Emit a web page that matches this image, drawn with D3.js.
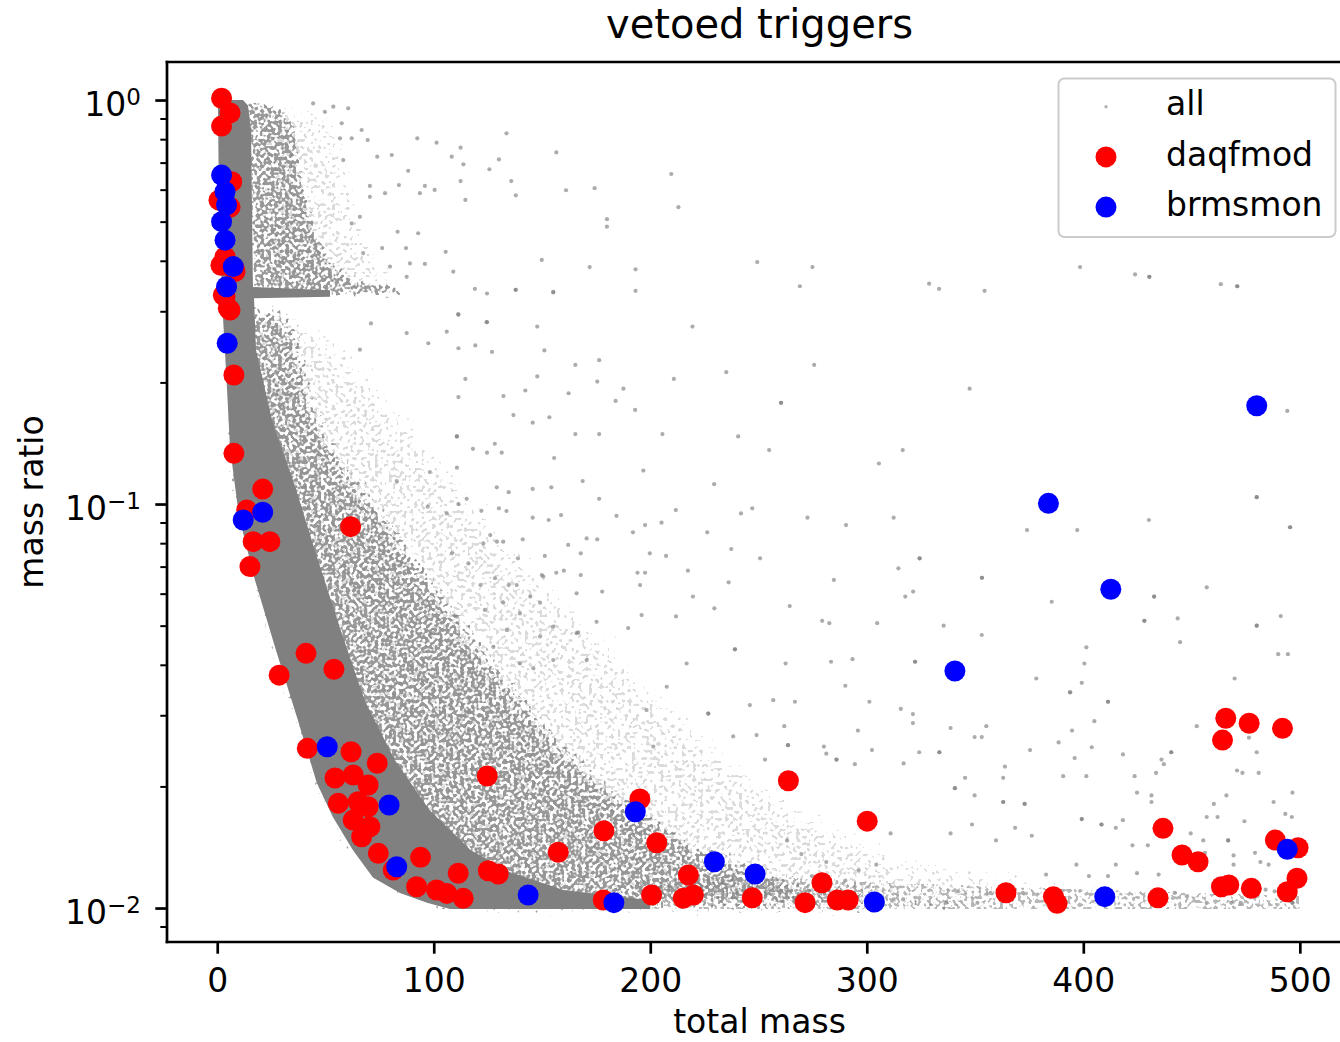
<!DOCTYPE html>
<html>
<head>
<meta charset="utf-8">
<script src="https://cdn.jsdelivr.net/npm/d3@7"></script>
<style>
  body { margin: 0; background: #fff; }
  svg { display: block; font-family: "DejaVu Sans", sans-serif; }
</style>
</head>
<body>
<div id="chart"></div>
<script>
// ---- data ----
var xTicks = [0, 100, 200, 300, 400, 500];
var yMajor = [0.01, 0.1, 1];
var yMajorExp = ["\u22122", "\u22121", "0"];
var yMinor = [0.009, 0.02, 0.03, 0.04, 0.05, 0.06, 0.07, 0.08, 0.09,
  0.2, 0.3, 0.4, 0.5, 0.6, 0.7, 0.8, 0.9];
var legendLabels = ["all", "daqfmod", "brmsmon"];

// "all": solid core of the point cloud, outline as [total mass, mass ratio]
var coreOutline = [
  [0.3, 1.0], [0.8, 0.566], [2.2, 0.320], [4.3, 0.203], [5.9, 0.138], [10.1, 0.0929],
  [17.4, 0.0649], [27.1, 0.0435], [36.8, 0.0297], [46.0, 0.0204], [53.4, 0.0168],
  [62.7, 0.0139], [71.9, 0.0119], [84.4, 0.0109], [96.9, 0.0103], [107.5, 0.00995],
  [200.0, 0.00995], [200.0, 0.01046], [160.0, 0.01108], [135.0, 0.01228], [117.0, 0.01392],
  [98.0, 0.01749], [82.0, 0.02325], [68.0, 0.03273], [57.0, 0.04878], [46.5, 0.07268],
  [36.5, 0.1083], [25.3, 0.1615], [17.9, 0.2406], [17.0, 0.323], [52.1, 0.326],
  [52.1, 0.338], [16.5, 0.3445], [16.0, 0.5656], [15.6, 0.8428], [14.2, 0.9695], [11.9, 1.0]
];
// dense speckle around the core
var halo1Upper = [
  [12.8, 1.0], [22.0, 0.99], [30.0, 0.95], [36.0, 0.85], [39.0, 0.671], [44.0, 0.5047],
  [52.0, 0.4018], [64.0, 0.3585], [86.0, 0.3445], [86.0, 0.3273], [16.5, 0.3254]
];
var halo1Lower = [
  [16.5, 0.3056], [28.0, 0.3092], [36.5, 0.2854], [40.5, 0.2272], [47.5, 0.1615], [61.5, 0.1214],
  [80.5, 0.0913], [97.0, 0.0687], [113.5, 0.0516], [135.0, 0.0367], [158.0, 0.0261],
  [190.0, 0.0185], [226.0, 0.0139], [272.0, 0.0117], [318.0, 0.01076], [361.5, 0.01034],
  [361.5, 0.00995], [102.8, 0.00995], [84.4, 0.0109], [62.7, 0.0139], [46.0, 0.0204],
  [27.1, 0.0435], [10.1, 0.0929], [5.9, 0.138], [4.3, 0.203], [2.5, 0.305]
];
// lighter speckle further out
var halo2Upper = [
  [15.1, 1.0], [36.0, 1.0], [50.0, 0.977], [59.5, 0.8428], [64.0, 0.634], [69.0, 0.4768],
  [83.0, 0.3796], [102.0, 0.3485], [120.0, 0.3387], [120.0, 0.3292], [84.4, 0.3236], [16.5, 0.3236]
];
var halo2Lower = [
  [16.5, 0.3022], [40.0, 0.2988], [59.5, 0.2547], [79.0, 0.1916], [98.0, 0.1441], [121.0, 0.1023],
  [145.0, 0.0727], [173.0, 0.0516], [201.0, 0.0367], [229.0, 0.0261], [266.0, 0.0185],
  [312.0, 0.0139], [366.0, 0.01228], [430.8, 0.01108], [500.1, 0.01076], [500.1, 0.00995],
  [102.8, 0.00995], [84.4, 0.0109], [62.7, 0.0139], [46.0, 0.0204], [27.1, 0.0435],
  [10.1, 0.0929], [5.9, 0.138], [4.3, 0.203], [2.5, 0.305]
];
// thin band of points lying on the 0.01 floor
var floorBand = [
  [195.0, 0.00995], [500.1, 0.00995], [500.1, 0.0107], [430.0, 0.0110], [361.5, 0.0113],
  [300.0, 0.0116], [250.0, 0.0120], [195.0, 0.0118]
];
// single "all" points away from the cloud
var allSparse = [
  [69.5, 0.796], [58.2, 0.710], [87.2, 0.430], [76.2, 0.430], [95.9, 0.393], [65.9, 0.514], [105.5, 0.421],
  [92.4, 0.804], [101.3, 0.784], [108.3, 0.724], [80.6, 0.731], [88.2, 0.668], [73.9, 0.724], [83.9, 0.616],
  [70.5, 0.613], [95.9, 0.613], [100.4, 0.599], [93.6, 0.588], [77.5, 0.588], [62.1, 0.495], [70.5, 0.576],
  [83.3, 0.472], [92.8, 0.468], [67.4, 0.418], [89.0, 0.394], [79.8, 0.387], [87.5, 0.365], [109.0, 0.376],
  [60.5, 0.954], [53.6, 0.963], [44.3, 0.981], [49.7, 0.935], [57.5, 0.876], [66.7, 0.843], [62.1, 0.804],
  [56.7, 0.804],
  [133.6, 0.827], [112.4, 0.762], [130.1, 0.713], [113.7, 0.693], [125.7, 0.674], [156.6, 0.742],
  [112.4, 0.630], [135.8, 0.630], [137.9, 0.581], [114.6, 0.566], [161.1, 0.598], [174.3, 0.605],
  [209.7, 0.656], [213.0, 0.543], [180.0, 0.507], [180.0, 0.486], [149.9, 0.402], [172.0, 0.386],
  [193.2, 0.381], [249.4, 0.397], [274.9, 0.386], [269.1, 0.346], [328.8, 0.351], [333.4, 0.341],
  [354.4, 0.337], [119.0, 0.341], [124.6, 0.332], [137.9, 0.339], [155.2, 0.335], [193.2, 0.337],
  [111.4, 0.294], [124.6, 0.282], [147.8, 0.275], [219.5, 0.275], [111.4, 0.243], [119.2, 0.247],
  [126.9, 0.238], [151.1, 0.240], [165.4, 0.221], [176.4, 0.227], [235.1, 0.212], [275.7, 0.221],
  [114.6, 0.204], [147.8, 0.207], [175.5, 0.201], [210.9, 0.204], [187.6, 0.193], [111.4, 0.184],
  [132.2, 0.185], [142.3, 0.191], [162.3, 0.188], [184.0, 0.180], [193.0, 0.171], [260.4, 0.178],
  [260.4, 0.178], [347.5, 0.193], [136.8, 0.166], [145.7, 0.159], [153.4, 0.164], [110.7, 0.147],
  [110.7, 0.147], [165.4, 0.149], [176.4, 0.149], [205.6, 0.149], [240.6, 0.147], [118.1, 0.137],
  [128.2, 0.141], [124.6, 0.134], [131.4, 0.134], [155.6, 0.130], [254.9, 0.136], [316.6, 0.136],
  [305.6, 0.126], [110.7, 0.123], [196.8, 0.121], [168.8, 0.114], [229.5, 0.112], [129.1, 0.110],
  [134.6, 0.107], [145.7, 0.109], [154.3, 0.110], [111.4, 0.100], [122.0, 0.0962], [130.1, 0.0976],
  [133.6, 0.0961], [145.7, 0.0925], [153.1, 0.0913], [158.8, 0.0939], [176.4, 0.103], [184.4, 0.0935],
  [211.8, 0.0966], [241.9, 0.0948], [247.1, 0.0976], [272.6, 0.0925], [290.4, 0.0887], [312.4, 0.0925],
  [374.0, 0.0862], [108.4, 0.0755], [116.0, 0.0713], [126.1, 0.0838], [129.2, 0.0807], [141.1, 0.0818],
  [138.9, 0.0734], [151.3, 0.0744], [167.9, 0.0755], [175.5, 0.0818], [192.0, 0.0851], [197.6, 0.0887],
  [205.2, 0.0899], [199.8, 0.0755], [207.3, 0.0744], [226.3, 0.0851], [237.4, 0.0774], [250.7, 0.0734],
  [324.4, 0.0734], [324.4, 0.0734], [314.6, 0.0693], [353.2, 0.0657], [353.2, 0.0657], [284.8, 0.0649],
  [121.6, 0.0630], [134.6, 0.0630], [149.9, 0.0667], [156.6, 0.0676], [160.1, 0.0684], [167.9, 0.0667],
  [194.1, 0.0676], [197.6, 0.0676], [195.3, 0.0630], [217.4, 0.0684], [236.2, 0.0640], [177.8, 0.0607],
  [219.7, 0.0590], [144.6, 0.0590], [321.4, 0.0607], [317.8, 0.0590],
  [398.5, 0.386], [423.9, 0.370], [430.5, 0.365], [430.5, 0.365], [463.5, 0.350], [471.1, 0.346],
  [471.1, 0.346], [494.2, 0.170], [480.1, 0.104], [480.1, 0.104], [495.5, 0.0876], [495.5, 0.0876],
  [430.3, 0.0913], [397.2, 0.0862], [385.4, 0.0573], [432.7, 0.0590], [432.7, 0.0590], [428.2, 0.0514],
  [428.2, 0.0514], [443.6, 0.0521], [457.0, 0.0622], [480.1, 0.0500], [480.1, 0.0500], [491.2, 0.0528],
  [264.4, 0.0559], [279.4, 0.0514], [282.7, 0.0507], [304.8, 0.0507], [335.5, 0.0500], [353.1, 0.0474],
  [444.7, 0.0455], [490.0, 0.0425], [494.5, 0.0425], [262.5, 0.0403], [283.5, 0.0407], [293.4, 0.0413],
  [322.3, 0.0407], [322.3, 0.0407], [290.1, 0.0355], [401.4, 0.0442], [400.5, 0.0403], [378.3, 0.0370],
  [469.9, 0.0370], [399.3, 0.0361], [393.9, 0.0342], [393.9, 0.0342], [411.4, 0.0324], [411.4, 0.0324],
  [301.2, 0.0324], [266.8, 0.0324], [315.7, 0.0311], [321.3, 0.0302], [321.3, 0.0287], [405.1, 0.0290],
  [355.2, 0.0282], [338.7, 0.0279], [295.9, 0.0275], [452.4, 0.0282], [476.5, 0.0264], [480.1, 0.0243],
  [394.8, 0.0275], [349.8, 0.0265], [353.1, 0.0265], [261.9, 0.0282], [263.6, 0.0253], [263.6, 0.0253],
  [280.2, 0.0251], [286.0, 0.0233], [286.0, 0.0233], [281.3, 0.0241], [294.5, 0.0227], [302.4, 0.0246],
  [324.2, 0.0243], [333.5, 0.0243], [333.5, 0.0243], [317.0, 0.0228], [375.4, 0.0246], [388.6, 0.0257],
  [403.9, 0.0250], [418.3, 0.0240], [440.6, 0.0243], [440.6, 0.0243], [436.1, 0.0233], [437.2, 0.0227],
  [396.0, 0.0235], [363.8, 0.0224], [473.5, 0.0216], [481.0, 0.0216], [471.0, 0.0219], [345.4, 0.0210],
  [340.7, 0.0198], [340.7, 0.0198], [363.0, 0.0210], [390.7, 0.0212], [401.4, 0.0212], [423.7, 0.0212],
  [433.6, 0.0216], [424.8, 0.0193], [431.5, 0.0190], [431.5, 0.0183], [466.1, 0.0190], [496.6, 0.0193],
  [487.9, 0.0183], [349.8, 0.0190], [363.0, 0.0183], [363.0, 0.0183], [372.9, 0.0181], [372.9, 0.0181],
  [460.3, 0.0181], [493.3, 0.0171], [462.0, 0.0168], [457.0, 0.0168], [399.3, 0.0166], [399.3, 0.0166],
  [408.4, 0.0161], [408.4, 0.0161], [418.3, 0.0165], [415.0, 0.0158], [474.4, 0.0164], [496.3, 0.0168],
  [466.9, 0.0147], [466.9, 0.0147], [449.6, 0.0153], [455.4, 0.0147], [456.2, 0.0137], [469.4, 0.0135],
  [479.3, 0.0137], [481.8, 0.0130], [485.6, 0.0128], [469.4, 0.0128], [422.7, 0.0143], [429.8, 0.0143],
  [434.8, 0.0121], [396.8, 0.0128], [402.6, 0.0120], [415.0, 0.0128], [411.4, 0.0120], [424.8, 0.0122],
  [376.2, 0.0151], [368.5, 0.0158], [348.6, 0.0161], [338.7, 0.0153], [359.7, 0.0147], [382.8, 0.0121],
  [372.1, 0.0109], [357.2, 0.0109], [336.6, 0.0103], [342.1, 0.0110], [312.4, 0.0105], [316.8, 0.0105],
  [351.1, 0.0103], [442.2, 0.0109], [447.9, 0.0107], [457.0, 0.0103], [468.3, 0.0103], [472.7, 0.0103],
  [484.2, 0.0111], [496.6, 0.0103], [496.6, 0.0103], [488.4, 0.0110], [311.0, 0.0153], [304.4, 0.0128],
  [290.1, 0.0117], [296.2, 0.0124], [281.3, 0.0130], [274.7, 0.0120], [269.8, 0.0136], [263.2, 0.0147],
  [259.9, 0.0109],
  [111.3, 0.295], [124.4, 0.282], [137.8, 0.339], [155.2, 0.334], [106.0, 0.267], [87.5, 0.265],
  [71.0, 0.280], [65.9, 0.241], [97.5, 0.250], [98.2, 0.120], [82.9, 0.114], [115.2, 0.103],
  [106.0, 0.0948], [97.2, 0.0985], [170.6, 0.0822], [162.1, 0.0792], [132.1, 0.0807], [122.9, 0.0799],
  [128.3, 0.0655], [138.3, 0.0630], [150.6, 0.0661], [166.0, 0.0601], [149.1, 0.0570], [132.1, 0.0570],
  [123.6, 0.0547], [139.8, 0.0536], [155.2, 0.0497], [166.0, 0.0479], [149.1, 0.0470], [133.7, 0.0488],
  [110.6, 0.0526], [99.8, 0.0479], [155.2, 0.0411], [170.6, 0.0411], [139.8, 0.0403], [127.5, 0.0443],
  [146.0, 0.0392], [229.6, 0.0552], [239.1, 0.0437], [239.1, 0.0437], [226.8, 0.0303], [226.8, 0.0303],
  [166.7, 0.0481], [189.8, 0.0493], [196.0, 0.0531], [211.9, 0.0527], [175.2, 0.0511], [246.0, 0.0318],
  [256.8, 0.0327], [216.8, 0.0403], [207.6, 0.0353], [198.3, 0.0309], [201.4, 0.0251], [238.3, 0.0266],
  [249.1, 0.0268], [253.0, 0.0233]
];

var daqfmod = [
  [2.0, 1.01], [5.9, 0.929], [2.0, 0.862], [0.8, 0.565], [5.9, 0.543], [6.7, 0.628],
  [3.6, 0.409], [8.2, 0.376], [1.7, 0.39], [7.7, 0.384], [2.8, 0.329], [5.1, 0.305],
  [3.6, 0.326], [5.9, 0.302], [7.7, 0.2086], [7.7, 0.1335], [21.0, 0.1089], [13.6, 0.0966],
  [16.6, 0.0807], [24.3, 0.0807], [15.1, 0.0700], [61.6, 0.0879], [41.0, 0.0427], [53.9, 0.0390],
  [28.6, 0.0377], [41.6, 0.02485], [61.8, 0.02437], [73.9, 0.02282], [54.4, 0.02098], [62.8, 0.02135],
  [69.7, 0.02016], [55.9, 0.01816], [65.1, 0.01833], [69.7, 0.01781], [62.8, 0.01651], [70.5, 0.01589],
  [66.7, 0.01501], [74.4, 0.01366], [81.3, 0.01242], [93.9, 0.01335], [92.1, 0.01129], [101.3, 0.01108],
  [106.0, 0.01087], [111.3, 0.01219], [113.6, 0.01057], [124.7, 0.02122], [125.2, 0.01237],
  [129.8, 0.01214], [157.5, 0.01374], [178.6, 0.01553], [195.2, 0.01862], [203.0, 0.01451],
  [178.3, 0.01047], [200.6, 0.01077], [217.6, 0.01207], [215.2, 0.01057], [219.9, 0.01077],
  [247.1, 0.01060], [263.8, 0.02066], [271.5, 0.01031], [279.3, 0.01155], [286.4, 0.01047],
  [291.4, 0.01047], [300.2, 0.01641], [364.3, 0.01091], [386.2, 0.01067], [387.9, 0.01027],
  [434.5, 0.01060], [436.8, 0.01575], [445.6, 0.01353], [453.0, 0.01302], [465.8, 0.02949],
  [464.3, 0.02604], [476.6, 0.02866], [492.0, 0.02785], [463.8, 0.01129], [467.2, 0.0114],
  [477.6, 0.01119], [488.7, 0.01473], [499.2, 0.0141], [498.7, 0.01185], [494.2, 0.01097]
];

var brmsmon = [
  [2.0, 0.652], [3.6, 0.593], [4.3, 0.550], [2.0, 0.500], [3.6, 0.450], [7.4, 0.387],
  [4.3, 0.345], [4.6, 0.250], [12.0, 0.0913], [21.0, 0.0954], [50.8, 0.02507], [79.4, 0.01799],
  [82.9, 0.01265], [143.6, 0.01077], [193.1, 0.01731], [183.2, 0.01031], [229.6, 0.01302],
  [248.4, 0.01214], [303.5, 0.01035], [340.7, 0.03861], [383.9, 0.1004], [412.7, 0.06151],
  [480.1, 0.1751], [409.9, 0.01067], [494.2, 0.01397]
];

// ---- layout ----
var W = 1340, H = 1042;
var plotL = 167, plotT = 62, plotR = 1352, plotB = 942;

var x = d3.scaleLinear().domain([-23.2, 524.1]).range([plotL, plotR]);
var y = d3.scaleLog().domain([0.00824, 1.242]).range([plotB, plotT]);

var svg = d3.select("#chart").append("svg")
  .attr("width", W)
  .attr("height", H);

var defs = svg.append("defs");
defs.append("clipPath").attr("id", "clip")
  .append("rect")
  .attr("x", plotL).attr("y", plotT)
  .attr("width", plotR - plotL).attr("height", plotB - plotT);

// speckle texture whose density fades out towards the edge of the shape
function speckle(id, blur, lift, cut, seed) {
  var f = defs.append("filter").attr("id", id)
    .attr("filterUnits", "userSpaceOnUse")
    .attr("x", 0).attr("y", 0).attr("width", W).attr("height", H)
    .attr("color-interpolation-filters", "sRGB");
  f.append("feTurbulence").attr("type", "fractalNoise")
    .attr("baseFrequency", 0.28).attr("numOctaves", 1).attr("seed", seed)
    .attr("result", "n");
  f.append("feColorMatrix").attr("in", "n").attr("type", "matrix")
    .attr("values", "0 0 0 0 0  0 0 0 0 0  0 0 0 0 0  1 0 0 0 0")
    .attr("result", "na");
  if (blur > 0) {
    f.append("feGaussianBlur").attr("in", "SourceAlpha").attr("stdDeviation", blur).attr("result", "m");
  } else {
    f.append("feOffset").attr("in", "SourceAlpha").attr("dx", 0).attr("dy", 0).attr("result", "m");
  }
  f.append("feComposite").attr("in", "na").attr("in2", "m").attr("operator", "arithmetic")
    .attr("k1", 0).attr("k2", 1).attr("k3", lift).attr("k4", 0).attr("result", "sum");
  f.append("feColorMatrix").attr("in", "sum").attr("type", "matrix")
    .attr("values", "0 0 0 0 0.5  0 0 0 0 0.5  0 0 0 0 0.5  0 0 0 10 " + (-10 * cut));
}
speckle("spk1", 9, 0.4, 0.84, 4);
speckle("spk1u", 3, 0.4, 0.84, 4);
speckle("spk2", 16, 0.4, 0.96, 11);
speckle("spkFloor", 0, 0.4, 0.92, 23);

var plot = svg.append("g").attr("clip-path", "url(#clip)");

var outline = d3.line()
  .x(function (d) { return x(d[0]); })
  .y(function (d) { return y(d[1]); });

// light halo, dense halo, floor band, solid core
[halo2Upper, halo2Lower].forEach(function (pts) {
  plot.append("path").attr("d", outline(pts) + "Z")
    .attr("fill", "#808080").attr("filter", "url(#spk2)").attr("opacity", 0.7);
});
plot.append("path").attr("d", outline(halo1Upper) + "Z")
  .attr("fill", "#808080").attr("filter", "url(#spk1u)").attr("opacity", 0.8);
plot.append("path").attr("d", outline(halo1Lower) + "Z")
  .attr("fill", "#808080").attr("filter", "url(#spk1)").attr("opacity", 0.8);
plot.append("path").attr("d", outline(floorBand) + "Z")
  .attr("fill", "#808080").attr("filter", "url(#spkFloor)").attr("opacity", 0.7);
plot.append("path").attr("d", outline(coreOutline) + "Z")
  .attr("fill", "#808080");

plot.append("g").selectAll("circle")
  .data(allSparse)
  .join("circle")
  .attr("cx", function (d) { return x(d[0]); })
  .attr("cy", function (d) { return y(d[1]); })
  .attr("r", 2.1)
  .attr("fill", "#808080")
  .attr("opacity", 0.65);

plot.append("g").selectAll("circle")
  .data(daqfmod)
  .join("circle")
  .attr("cx", function (d) { return x(d[0]); })
  .attr("cy", function (d) { return y(d[1]); })
  .attr("r", 10.5)
  .attr("fill", "#ff0000");

plot.append("g").selectAll("circle")
  .data(brmsmon)
  .join("circle")
  .attr("cx", function (d) { return x(d[0]); })
  .attr("cy", function (d) { return y(d[1]); })
  .attr("r", 10.5)
  .attr("fill", "#0000ff");

// ---- axes ----
var gx = svg.append("g")
  .attr("transform", "translate(0," + plotB + ")")
  .call(d3.axisBottom(x).tickValues(xTicks).tickSize(11.7).tickFormat(d3.format("d")));
gx.select(".domain").remove();
gx.selectAll(".tick line").attr("stroke", "#000").attr("stroke-width", 2.7);
gx.selectAll(".tick text")
  .attr("y", 50).attr("dy", null)
  .attr("font-size", 33).attr("font-family", "DejaVu Sans").attr("fill", "#000");

var gyMinor = svg.append("g")
  .attr("transform", "translate(" + plotL + ",0)")
  .call(d3.axisLeft(y).tickValues(yMinor).tickSize(6.7).tickFormat(""));
gyMinor.select(".domain").remove();
gyMinor.selectAll(".tick line").attr("stroke", "#000").attr("stroke-width", 2);

var gy = svg.append("g")
  .attr("transform", "translate(" + plotL + ",0)")
  .call(d3.axisLeft(y).tickValues(yMajor).tickSize(11.7).tickFormat(""));
gy.select(".domain").remove();
gy.selectAll(".tick line").attr("stroke", "#000").attr("stroke-width", 2.7);

var yLab = svg.append("g").selectAll("text")
  .data(yMajor)
  .join("text")
  .attr("x", 141)
  .attr("y", function (d) { return y(d) + 16; })
  .attr("text-anchor", "end")
  .attr("font-size", 33)
  .attr("fill", "#000");
yLab.append("tspan").text("10");
yLab.append("tspan")
  .attr("dy", -11)
  .attr("font-size", 23)
  .text(function (d, i) { return yMajorExp[i]; });

// spines
var spines = svg.append("g").attr("stroke", "#000").attr("stroke-width", 2.7)
  .attr("stroke-linecap", "square").attr("fill", "none");
spines.append("line").attr("x1", plotL).attr("x2", plotL).attr("y1", plotT).attr("y2", plotB);
spines.append("line").attr("x1", plotL).attr("x2", plotR).attr("y1", plotB).attr("y2", plotB);
spines.append("line").attr("x1", plotL).attr("x2", plotR).attr("y1", plotT).attr("y2", plotT);
spines.append("line").attr("x1", plotR).attr("x2", plotR).attr("y1", plotT).attr("y2", plotB);

// titles
svg.append("text")
  .attr("x", (plotL + plotR) / 2).attr("y", 38)
  .attr("text-anchor", "middle").attr("font-size", 40)
  .text("vetoed triggers");
svg.append("text")
  .attr("x", (plotL + plotR) / 2).attr("y", 1033)
  .attr("text-anchor", "middle").attr("font-size", 33)
  .text("total mass");
svg.append("text")
  .attr("transform", "translate(43," + ((plotT + plotB) / 2) + ") rotate(-90)")
  .attr("text-anchor", "middle").attr("font-size", 33)
  .text("mass ratio");

// ---- legend ----
var lg = svg.append("g");
lg.append("rect")
  .attr("x", 1058.5).attr("y", 78.5).attr("width", 277).attr("height", 158.5)
  .attr("rx", 6)
  .attr("fill", "#fff").attr("fill-opacity", 0.8)
  .attr("stroke", "#cccccc").attr("stroke-width", 2);
var legendColors = ["#808080", "#ff0000", "#0000ff"];
var legendR = [1.7, 10.5, 10.5];
legendLabels.forEach(function (name, i) {
  var cy = 106.7 + i * 50.2;
  lg.append("circle").attr("cx", 1106).attr("cy", cy).attr("r", legendR[i])
    .attr("fill", legendColors[i]).attr("opacity", i === 0 ? 0.6 : 1);
  lg.append("text").attr("x", 1166).attr("y", cy + 8.6)
    .attr("font-size", 33).text(name);
});
</script>
</body>
</html>
